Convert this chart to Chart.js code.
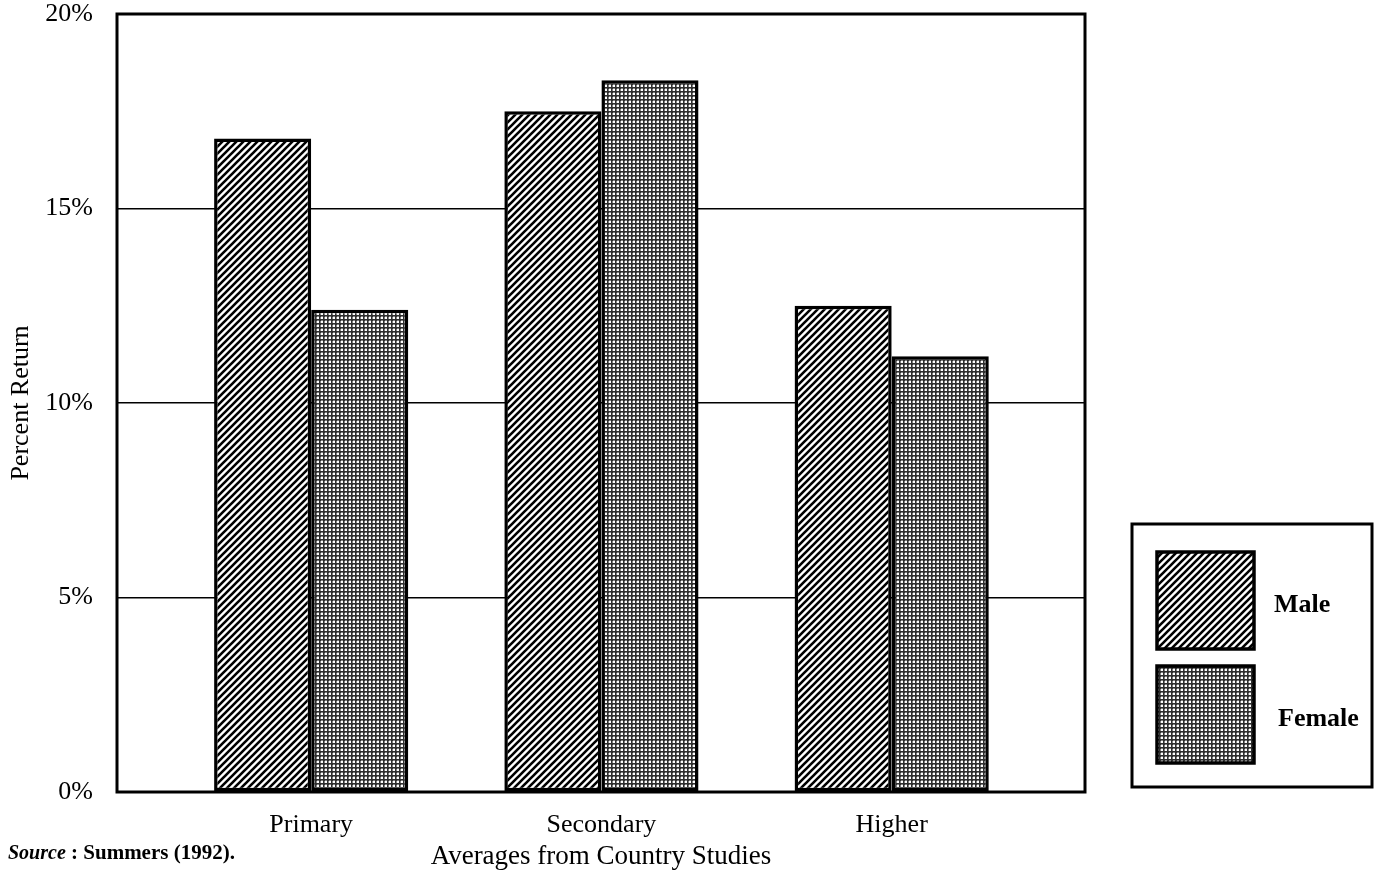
<!DOCTYPE html>
<html>
<head>
<meta charset="utf-8">
<script src="https://cdn.jsdelivr.net/npm/chart.js@4/dist/chart.umd.min.js"></script>
<style>
  body { margin: 0; background: #fff; }
  #wrap { width: 1375px; height: 873px; }
</style>
</head>
<body>
<div id="wrap"><canvas id="chart" width="1375" height="873"></canvas></div>
<script>
// data
var categories = ['Primary', 'Secondary', 'Higher']
var maleValues = [16.8, 17.5, 12.5]
var femaleValues = [12.4, 18.3, 11.2]
var yTicks = [0, 5, 10, 15, 20]
var seriesNames = ['Male', 'Female']
var sourceNote = 'Summers (1992).'

function hatchPattern() {
    var c = document.createElement('canvas')
    c.width = 7; c.height = 7
    var g = c.getContext('2d')
    g.fillStyle = '#fff'
    g.fillRect(0, 0, 7, 7)
    g.strokeStyle = '#000'
    g.lineWidth = 2.6
    g.beginPath()
    g.moveTo(-1, 8); g.lineTo(8, -1)
    g.moveTo(-4.5, 4.5); g.lineTo(4.5, -4.5)
    g.moveTo(2.5, 11.5); g.lineTo(11.5, 2.5)
    g.stroke()
    return g.createPattern(c, 'repeat')
}

function dotPattern() {
    var c = document.createElement('canvas')
    c.width = 4; c.height = 4
    var g = c.getContext('2d')
    g.fillStyle = '#2e2e2e'
    g.fillRect(0, 0, 4, 4)
    g.fillStyle = '#808080'
    g.fillRect(1, 0, 2, 1)
    g.fillRect(0, 1, 1, 2)
    g.fillStyle = '#fff'
    g.fillRect(1, 1, 2, 2)
    return g.createPattern(c, 'repeat')
}

var malePattern = hatchPattern()
var femalePattern = dotPattern()

function toPoints(values) {
    return values.map(function (v, i) { return { x: i + 1, y: v } })
}

var serif = '"Liberation Serif", "DejaVu Serif", serif'

// frame round the plot, the legend box and the source line
var extras = {
    id: 'extras',
    afterDatasetsDraw: function (chart) {
        var ctx = chart.ctx
        var a = chart.chartArea
        ctx.save()
        ctx.strokeStyle = '#000'
        ctx.lineWidth = 3
        ctx.strokeRect(a.left, a.top, a.right - a.left, a.bottom - a.top)

        // legend
        ctx.strokeRect(1132, 524, 240, 263)
        var swatches = [malePattern, femalePattern]
        var rows = [552, 666]
        ctx.font = 'bold 26px ' + serif
        ctx.textBaseline = 'middle'
        for (var i = 0; i < seriesNames.length; i++) {
            ctx.fillStyle = swatches[i]
            ctx.fillRect(1157, rows[i], 97, 97)
            ctx.lineWidth = 3.5
            ctx.strokeRect(1157, rows[i], 97, 97)
            ctx.fillStyle = '#000'
            ctx.fillText(seriesNames[i], i == 0 ? 1274 : 1278, rows[i] + 53)
        }

        // source
        ctx.textBaseline = 'alphabetic'
        ctx.font = 'italic bold 20px ' + serif
        ctx.fillText('Source', 8, 859)
        var w = ctx.measureText('Source').width
        ctx.font = 'bold 21px ' + serif
        ctx.fillText(' : ' + sourceNote, 8 + w, 859)
        ctx.restore()
    }
}

new Chart(document.getElementById('chart'), {
    type: 'bar',
    data: {
        datasets: [
            { label: seriesNames[0], data: toPoints(maleValues), backgroundColor: malePattern,
              borderColor: '#000', borderWidth: 3.5, borderSkipped: false },
            { label: seriesNames[1], data: toPoints(femaleValues), backgroundColor: femalePattern,
              borderColor: '#000', borderWidth: 3.5, borderSkipped: false }
        ]
    },
    options: {
        responsive: false,
        animation: false,
        devicePixelRatio: 1,
        categoryPercentage: 0.669,
        barPercentage: 1.0,
        layout: { padding: { top: 14, right: 290, left: 0, bottom: 0 } },
        plugins: {
            legend: { display: false },
            tooltip: { enabled: false }
        },
        scales: {
            x: {
                type: 'linear',
                offset: false,
                min: 0.331,
                max: 3.666,
                grid: { display: false },
                border: { display: false },
                afterBuildTicks: function (scale) {
                    scale.ticks = categories.map(function (c, i) { return { value: i + 1 } })
                },
                afterFit: function (scale) {
                    scale.height = 81
                    scale.paddingLeft = 0
                    scale.paddingRight = 0
                },
                ticks: {
                    padding: 10,
                    color: '#000',
                    maxRotation: 0,
                    font: { family: serif, size: 26 },
                    callback: function (v) { return categories[v - 1] || '' }
                },
                title: {
                    display: true,
                    text: 'Averages from Country Studies',
                    color: '#000',
                    font: { family: serif, size: 27 },
                    padding: { top: 0, bottom: 0 }
                }
            },
            y: {
                min: 0,
                max: 20,
                afterBuildTicks: function (scale) {
                    scale.ticks = yTicks.map(function (v) { return { value: v } })
                },
                afterFit: function (scale) {
                    scale.width = 117
                    scale.paddingTop = 0
                    scale.paddingBottom = 0
                },
                grid: { color: '#000', lineWidth: 1.5, drawTicks: false },
                border: { display: false },
                ticks: {
                    padding: 24,
                    color: '#000',
                    font: { family: serif, size: 26 },
                    callback: function (v) { return v + '%' }
                },
                title: {
                    display: true,
                    text: 'Percent Return',
                    color: '#000',
                    font: { family: serif, size: 26 },
                    padding: { top: 6, bottom: 0 }
                }
            }
        }
    },
    plugins: [extras]
})
</script>
</body>
</html>
